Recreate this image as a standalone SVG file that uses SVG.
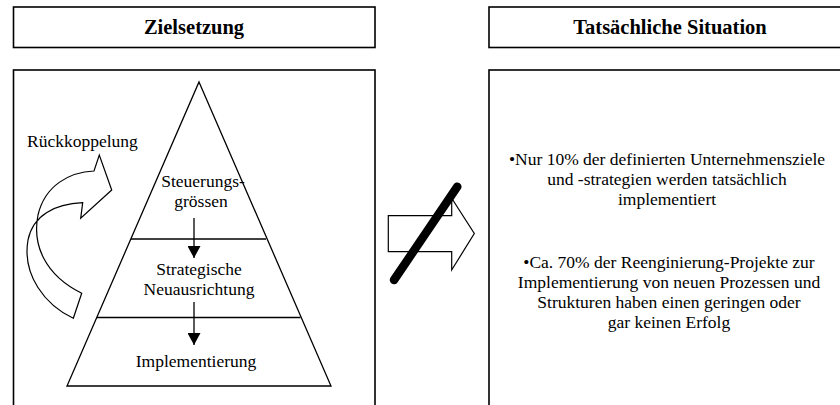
<svg xmlns="http://www.w3.org/2000/svg" width="840" height="405" viewBox="0 0 840 405">
<defs>
<style>
.box{fill:#fff;stroke:#000;stroke-width:1.6}
.ln{fill:none;stroke:#000;stroke-width:1.3}
.shape{fill:#fff;stroke:#000;stroke-width:1.2;stroke-linejoin:miter}
text{font-family:'Liberation Serif','Times New Roman',Times,serif;fill:#000}
.hd{font-size:20.5px;font-weight:bold;text-anchor:middle}
.tx{font-size:17.5px;text-anchor:middle}
.txl{font-size:17.5px}
</style>
<marker id="ah" markerWidth="12" markerHeight="13" refX="12" refY="6.5" orient="auto" markerUnits="userSpaceOnUse" viewBox="0 0 12 13">
<path d="M0,0 L12,6.5 L0,13 Z" fill="#000"/>
</marker>
</defs>
<rect width="840" height="405" fill="#fff"/>

<g id="header-zielsetzung">
<rect class="box" x="13.5" y="7" width="361.5" height="40.5"/>
<text class="hd" x="194" y="34">Zielsetzung</text>
</g>

<g id="header-situation">
<rect class="box" x="489" y="7" width="360" height="40.5"/>
<text class="hd" x="670" y="34">Tatsächliche Situation</text>
</g>

<g id="panel-left">
<rect class="box" x="13.5" y="70" width="361.5" height="350"/>
</g>

<g id="panel-right">
<rect class="box" x="489" y="70" width="360" height="350"/>
<text class="tx" x="667" y="165">•Nur 10% der definierten Unternehmensziele</text>
<text class="tx" x="667" y="185">und -strategien werden tatsächlich</text>
<text class="tx" x="667" y="205">implementiert</text>
<text class="tx" x="669" y="268">•Ca. 70% der Reenginierung-Projekte zur</text>
<text class="tx" x="669" y="288">Implementierung von neuen Prozessen und</text>
<text class="tx" x="669" y="308">Strukturen haben einen geringen oder</text>
<text class="tx" x="669" y="328">gar keinen Erfolg</text>
</g>

<g id="pyramid">
<polygon class="ln" points="199,82 331,386 67,386"/>
<line class="ln" x1="131" y1="239" x2="266" y2="239"/>
<line class="ln" x1="97" y1="317.5" x2="300.5" y2="317.5"/>
</g>

<g id="node-steuerungsgroessen">
<text class="tx" x="203" y="187">Steuerungs-</text>
<text class="tx" x="201" y="207">grössen</text>
</g>

<g id="node-strategische-neuausrichtung">
<text class="tx" x="199" y="275">Strategische</text>
<text class="tx" x="199" y="295">Neuausrichtung</text>
</g>

<g id="node-implementierung">
<text class="tx" x="196" y="367">Implementierung</text>
</g>

<g id="feedback">
<text class="txl" x="27" y="147">Rückkoppelung</text>
<path class="shape" d="M111.7,190 L99.3,155 L94,171 C70,172 45,185 38,215 C32,245 45,275 81.7,293.3 L73.3,318.3 C45,305 22,275 28,240 C33,215 55,204 82.7,202.7 L80.7,218.3 Z"/>
</g>

<g id="connectors">
<line class="ln" x1="194" y1="218" x2="194" y2="258" marker-end="url(#ah)"/>
<line class="ln" x1="194" y1="302" x2="194" y2="345" marker-end="url(#ah)"/>
</g>

<g id="blocked-arrow">
<path class="shape" d="M388.3,215.7 L451.7,215.7 L451.7,198.3 L474.3,233.5 L451.7,270 L451.7,251.7 L388.3,251.7 Z"/>
<line x1="394" y1="280" x2="457.3" y2="186.7" stroke="#000" stroke-width="8.5" stroke-linecap="round"/>
</g>
</svg>
